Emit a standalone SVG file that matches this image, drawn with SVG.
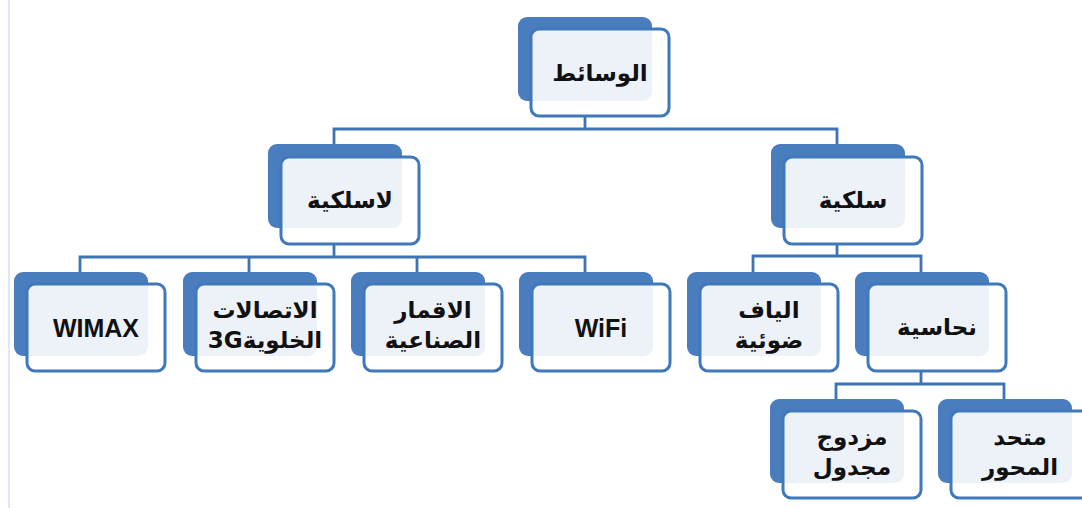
<svg xmlns="http://www.w3.org/2000/svg" width="1082" height="508" viewBox="0 0 1082 508">
<style>
.back{fill:#4a7dbd;}
.front{fill:#ffffff;fill-opacity:0.9;stroke:#3f78bb;stroke-width:3;}
.conn{fill:none;stroke:#3d74b5;stroke-width:2.8;}
.ar{font-family:"DejaVu Sans",sans-serif;font-weight:bold;font-size:23px;fill:#111;text-anchor:middle;direction:rtl;}
.en{font-family:"Liberation Sans",Arial,sans-serif;font-weight:bold;font-size:25px;fill:#111;text-anchor:middle;}
</style>
<rect x="0" y="0" width="1082" height="508" fill="#ffffff"/>
<line x1="9" y1="0" x2="9" y2="508" stroke="#dfe7f0" stroke-width="2"/>
<g id="connectors">
<path class="conn" d="M585 116 V129 M334 144 V129 H837 V144"/>
<path class="conn" d="M334 244 V257 M80 272 V257 H585 V272 M249 257 V272 M417 257 V272"/>
<path class="conn" d="M837 244 V256 M753 272 V256 H921 V272"/>
<path class="conn" d="M921 371 V384 M836 399 V384 H1004 V399"/>
</g>
<g id="n-wasait">
<rect class="back" x="518" y="17" width="134" height="84" rx="9"/>
<rect class="front" x="531" y="29" width="138" height="87" rx="8"/>
<text class="ar" x="600" y="81">الوسائط</text>
</g>
<g id="n-lasilkiya">
<rect class="back" x="268" y="144" width="134" height="84" rx="9"/>
<rect class="front" x="281" y="157" width="138" height="87" rx="8"/>
<text class="ar" x="350" y="208">لاسلكية</text>
</g>
<g id="n-silkiya">
<rect class="back" x="771" y="144" width="134" height="84" rx="9"/>
<rect class="front" x="784" y="157" width="138" height="87" rx="8"/>
<text class="ar" x="853" y="208">سلكية</text>
</g>
<g id="n-wimax">
<rect class="back" x="14" y="272" width="134" height="84" rx="9"/>
<rect class="front" x="27" y="284" width="138" height="87" rx="8"/>
<text class="en" x="96" y="337">WIMAX</text>
</g>
<g id="n-3g">
<rect class="back" x="183" y="272" width="134" height="84" rx="9"/>
<rect class="front" x="196" y="284" width="138" height="87" rx="8"/>
<text class="ar" x="265" y="318">الاتصالات</text>
<text class="ar" x="265" y="348">الخلوية3G</text>
</g>
<g id="n-sat">
<rect class="back" x="351" y="272" width="134" height="84" rx="9"/>
<rect class="front" x="364" y="284" width="138" height="87" rx="8"/>
<text class="ar" x="433" y="318">الاقمار</text>
<text class="ar" x="433" y="348">الصناعية</text>
</g>
<g id="n-wifi">
<rect class="back" x="519" y="272" width="134" height="84" rx="9"/>
<rect class="front" x="532" y="284" width="138" height="87" rx="8"/>
<text class="en" x="601" y="337">WiFi</text>
</g>
<g id="n-fiber">
<rect class="back" x="687" y="272" width="134" height="84" rx="9"/>
<rect class="front" x="700" y="284" width="138" height="87" rx="8"/>
<text class="ar" x="769" y="318">الياف</text>
<text class="ar" x="769" y="348">ضوئية</text>
</g>
<g id="n-copper">
<rect class="back" x="855" y="272" width="134" height="84" rx="9"/>
<rect class="front" x="868" y="284" width="138" height="87" rx="8"/>
<text class="ar" x="937" y="335">نحاسية</text>
</g>
<g id="n-twisted">
<rect class="back" x="770" y="399" width="134" height="84" rx="9"/>
<rect class="front" x="783" y="411" width="138" height="87" rx="8"/>
<text class="ar" x="852" y="445">مزدوج</text>
<text class="ar" x="852" y="475">مجدول</text>
</g>
<g id="n-coax">
<rect class="back" x="938" y="399" width="134" height="84" rx="9"/>
<rect class="front" x="951" y="411" width="138" height="87" rx="8"/>
<text class="ar" x="1020" y="445">متحد</text>
<text class="ar" x="1020" y="475">المحور</text>
</g>
</svg>
